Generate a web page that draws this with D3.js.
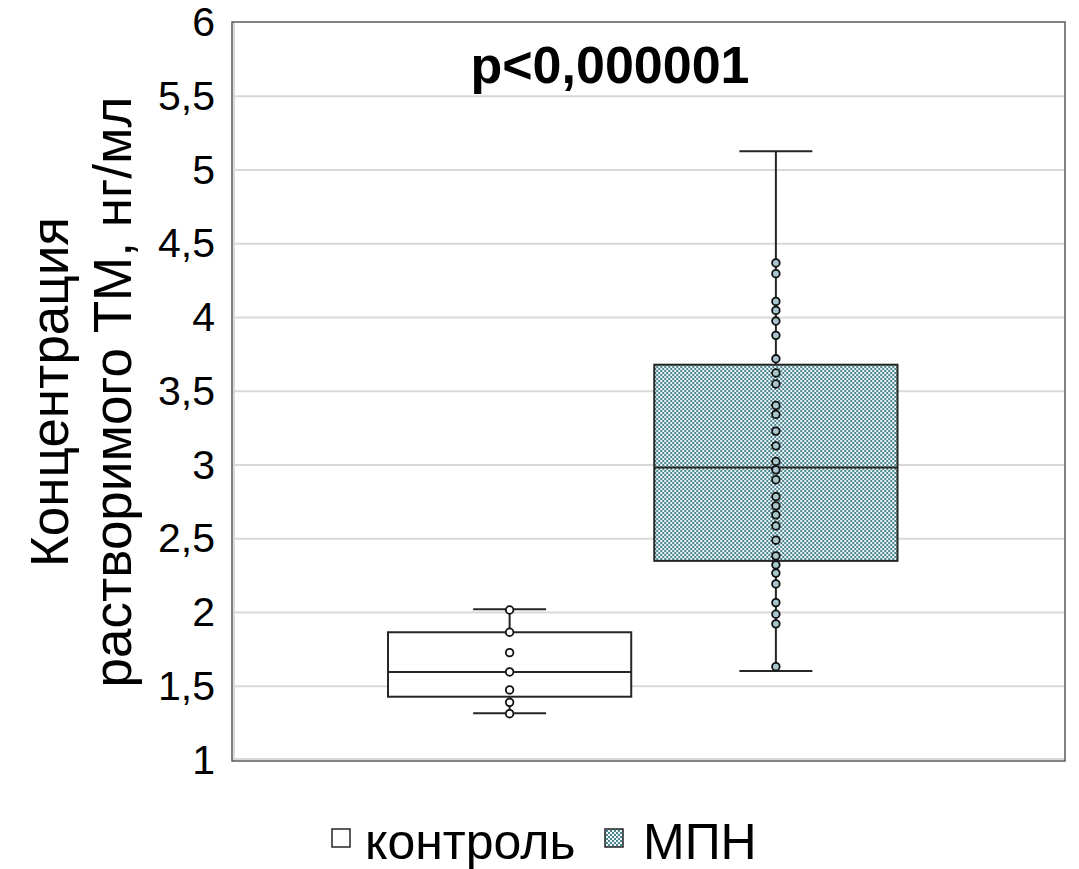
<!DOCTYPE html>
<html>
<head>
<meta charset="utf-8">
<script src="https://cdn.jsdelivr.net/npm/d3@7"></script>
<style>
  body { margin: 0; background: #fff; }
  text { font-family: "Liberation Sans", Arial, sans-serif; fill: #000; }
</style>
</head>
<body>
<script>
const width = 1079, height = 869;

// data
const series = ["контроль", "МПН"];
const mins = [1.317, 1.604];
const q1s = [1.429, 2.350];
const medians = [1.597, 2.983];
const q3s = [1.866, 3.680];
const maxs = [2.022, 5.127];
const controlPoints = [2.017, 1.866, 1.728, 1.597, 1.475, 1.391, 1.314];
const mpnPoints = [4.370, 4.297, 4.109, 4.048, 3.976, 3.879, 3.720, 3.624, 3.549,
  3.404, 3.343, 3.230, 3.130, 3.024, 2.967, 2.900, 2.786, 2.723, 2.662, 2.587,
  2.490, 2.384, 2.323, 2.267, 2.194, 2.067, 1.988, 1.923, 1.633];
const yTicks = [1, 1.5, 2, 2.5, 3, 3.5, 4, 4.5, 5, 5.5, 6];
const pText = "p<0,000001";
const yTitle = ["Концентрация", "растворимого ТМ, нг/мл"];

const boxes = series.map((s, i) => ({
  name: s, min: mins[i], q1: q1s[i], med: medians[i], q3: q3s[i], max: maxs[i],
  points: i === 0 ? controlPoints : mpnPoints
}));

const plotLeft = 232, plotRight = 1065, plotTop = 22, plotBottom = 761;

const svg = d3.select("body").append("svg")
  .attr("width", width)
  .attr("height", height);

const defs = svg.append("defs");
const pat = defs.append("pattern")
  .attr("id", "checker")
  .attr("width", 4).attr("height", 4)
  .attr("patternUnits", "userSpaceOnUse");
pat.append("rect").attr("width", 4).attr("height", 4).attr("fill", "#f2f7f8");
pat.append("rect").attr("x", 0).attr("y", 0).attr("width", 2).attr("height", 2).attr("fill", "#4a8591");
pat.append("rect").attr("x", 2).attr("y", 2).attr("width", 2).attr("height", 2).attr("fill", "#4a8591");

const y = d3.scaleLinear().domain([1, 6]).range([760, 22.5]);
const x = d3.scaleBand().domain(series).range([388, 897.5]).paddingInner(0.0865);

// grid
svg.append("g")
  .selectAll("line")
  .data(yTicks.filter(t => t > 1 && t < 6))
  .enter()
  .append("line")
  .attr("x1", plotLeft).attr("x2", plotRight)
  .attr("y1", d => y(d)).attr("y2", d => y(d))
  .attr("stroke", "#d9d9d9")
  .attr("stroke-width", 2);

// light axis lines just inside the frame
svg.append("line")
  .attr("x1", plotLeft + 2).attr("x2", plotLeft + 2)
  .attr("y1", plotTop).attr("y2", plotBottom)
  .attr("stroke", "#d9d9d9").attr("stroke-width", 2);
svg.append("line")
  .attr("x1", plotLeft).attr("x2", plotRight)
  .attr("y1", plotBottom - 2).attr("y2", plotBottom - 2)
  .attr("stroke", "#d9d9d9").attr("stroke-width", 2);

// frame
svg.append("rect")
  .attr("x", plotLeft).attr("y", plotTop)
  .attr("width", plotRight - plotLeft).attr("height", plotBottom - plotTop)
  .attr("fill", "none")
  .attr("stroke", "#595959")
  .attr("stroke-width", 1.5);

// y axis labels
const yAxis = d3.axisLeft(y)
  .tickValues(yTicks)
  .tickSize(0)
  .tickPadding(17)
  .tickFormat(d => String(d).replace(".", ","));
const ga = svg.append("g").attr("transform", `translate(${plotLeft},0)`).call(yAxis);
ga.select(".domain").remove();
ga.selectAll("text")
  .attr("font-size", 41)
  .attr("font-family", "Liberation Sans, Arial, sans-serif")
  .attr("fill", "#000");

// y title
svg.append("g")
  .selectAll("text")
  .data(yTitle)
  .enter()
  .append("text")
  .attr("transform", (d, i) => `translate(${68 + i * 63},392) rotate(-90)`)
  .attr("text-anchor", "middle")
  .attr("font-size", 53)
  .text(d => d);

// boxes
const bw = x.bandwidth();
const capW = bw * 0.3;
const g = svg.append("g")
  .selectAll("g")
  .data(boxes)
  .enter()
  .append("g")
  .attr("transform", d => `translate(${x(d.name)},0)`);

g.append("line")
  .attr("x1", bw / 2).attr("x2", bw / 2)
  .attr("y1", d => y(d.max)).attr("y2", d => y(d.min))
  .attr("stroke", "#262626").attr("stroke-width", 2);

g.selectAll(".cap")
  .data(d => [d.min, d.max])
  .enter()
  .append("line")
  .attr("class", "cap")
  .attr("x1", bw / 2 - capW / 2).attr("x2", bw / 2 + capW / 2)
  .attr("y1", d => y(d)).attr("y2", d => y(d))
  .attr("stroke", "#262626").attr("stroke-width", 2);

g.append("rect")
  .attr("x", 0).attr("width", bw)
  .attr("y", d => y(d.q3))
  .attr("height", d => y(d.q1) - y(d.q3))
  .attr("fill", (d, i) => i === 0 ? "#ffffff" : "url(#checker)")
  .attr("stroke", "#262626").attr("stroke-width", 2);

g.append("line")
  .attr("x1", 0).attr("x2", bw)
  .attr("y1", d => y(d.med)).attr("y2", d => y(d.med))
  .attr("stroke", "#262626").attr("stroke-width", 2);

g.each(function (d, i) {
  d3.select(this).selectAll("circle")
    .data(d.points)
    .enter()
    .append("circle")
    .attr("cx", bw / 2)
    .attr("cy", v => y(v))
    .attr("r", 3.8)
    .attr("fill", i === 0 ? "#ffffff" : "#a8c6cc")
    .attr("stroke", "#111")
    .attr("stroke-width", 1.8);
});

// p value
svg.append("text")
  .attr("x", 610).attr("y", 83)
  .attr("text-anchor", "middle")
  .attr("font-size", 52)
  .attr("font-weight", "bold")
  .text(pText);

// legend
const legendX = [332, 605];
const legendTextX = [365, 643];
const lg = svg.append("g")
  .selectAll("g")
  .data(series)
  .enter()
  .append("g");
lg.append("rect")
  .attr("x", (d, i) => legendX[i]).attr("y", 829)
  .attr("width", 18).attr("height", 18)
  .attr("fill", (d, i) => i === 0 ? "#ffffff" : "url(#checker)")
  .attr("stroke", "#262626").attr("stroke-width", 1.5);
lg.append("text")
  .attr("x", (d, i) => legendTextX[i]).attr("y", 859)
  .attr("font-size", 50)
  .text(d => d);
</script>
</body>
</html>
